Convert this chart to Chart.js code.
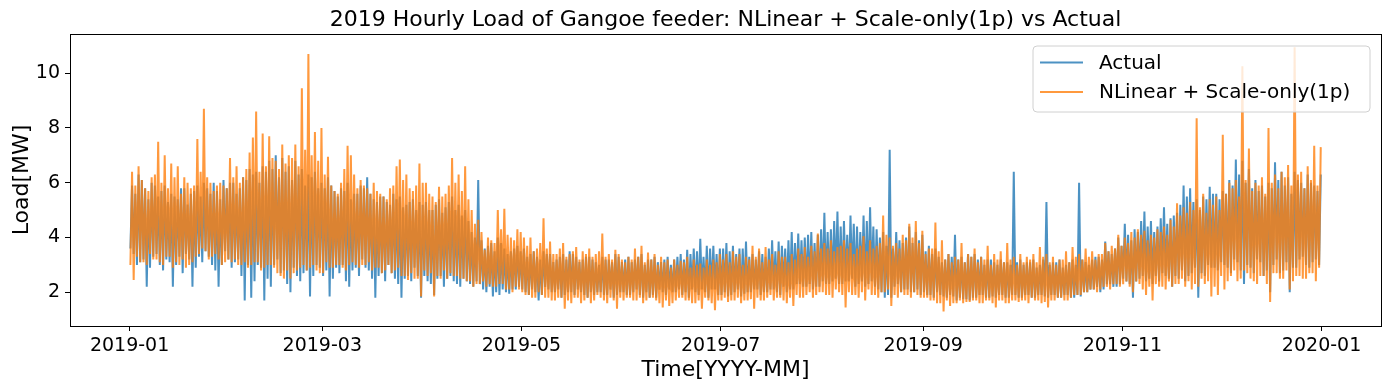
<!DOCTYPE html>
<html>
<head>
<meta charset="utf-8">
<script src="https://cdn.jsdelivr.net/npm/chart.js@4"></script>
<style>
  body { margin: 0; background: #fff; }
  canvas { display: block; }
</style>
</head>
<body>
<canvas id="myChart" width="1390" height="390"></canvas>
<script>
// daily peak and trough of each series for 2019, one row per month
const actualPeaks = [
  [5.9,5.6,6.3,6.1,5.8,5.4,6.0,5.9,5.5,5.7,5.9,5.3,5.6,5.5,5.4,5.8,5.8,5.2,5.6,5.7,5.9,5.5,6.0,5.8,5.6,6.0,5.7,5.4,6.1,5.8,6.0],
  [6.0,5.6,5.8,6.2,6.1,6.5,6.3,6.4,6.0,6.6,6.4,6.8,6.5,7.0,6.2,6.9,6.4,6.6,6.1,6.8,6.3,6.5,5.9,6.3,6.2,6.4,5.8,6.0],
  [5.8,6.2,5.9,5.7,5.5,5.8,5.7,6.0,5.4,5.6,5.6,5.9,5.8,6.2,5.6,5.4,5.3,5.5,5.5,5.3,5.2,5.6,5.4,5.5,5.1,5.2,5.3,5.4,5.0,5.3,5.2],
  [5.3,5.0,5.0,5.2,5.4,4.9,5.1,5.3,5.5,5.0,5.2,4.8,5.0,4.6,4.2,4.0,6.1,3.9,3.6,3.7,3.8,3.5,4.0,3.8,3.6,3.4,3.5,3.6,3.7,3.5],
  [3.6,3.3,3.4,3.5,3.3,3.2,3.5,3.4,3.4,3.1,3.2,3.3,3.4,3.2,3.5,3.4,3.3,3.1,3.2,3.3,3.3,3.2,3.1,3.0,3.3,3.2,3.2,3.1,3.4,3.3,3.1],
  [3.2,3.3,3.1,3.2,3.3,3.4,3.0,3.2,3.2,3.3,3.1,3.1,3.2,3.3,3.0,3.2,3.3,3.4,3.2,3.55,3.4,3.6,3.5,3.95,3.3,3.7,3.6,3.7,3.4,3.6],
  [3.6,3.8,3.5,3.7,3.4,3.6,3.6,3.85,3.3,3.4,3.2,3.5,3.4,3.3,3.6,3.9,3.5,3.85,3.7,3.6,3.9,4.2,3.8,4.15,3.9,4.0,4.1,4.2,3.8,4.1,4.3],
  [4.9,4.2,4.3,4.6,4.95,4.4,4.6,4.1,4.8,4.5,4.4,4.2,4.8,4.6,5.1,4.4,4.3,4.0,4.2,3.7,7.2,3.6,4.2,3.9,3.8,4.0,4.4,3.8,4.2,3.9,4.1],
  [3.5,3.7,3.4,3.6,3.3,3.1,3.2,3.4,3.3,4.1,3.2,3.3,3.1,3.4,3.3,3.4,3.2,3.3,3.0,3.2,3.2,3.1,3.0,3.2,3.1,3.1,3.0,6.4,3.1,3.2],
  [3.0,3.1,3.1,3.2,2.9,3.0,3.2,5.3,3.0,3.1,3.1,3.2,2.9,3.0,3.1,3.2,3.0,6.0,3.2,3.1,3.0,3.2,3.3,3.3,3.2,3.85,3.5,3.4,3.6,4.0,3.7],
  [4.5,4.1,3.9,4.3,4.2,4.6,4.95,4.4,4.6,4.2,4.4,4.7,5.1,4.5,4.7,4.8,4.9,5.2,5.9,5.5,5.8,5.3,5.4,5.0,5.5,5.4,5.85,5.6,5.6,5.4],
  [5.7,5.6,6.1,5.9,6.85,6.3,6.8,6.0,6.5,5.8,6.1,5.7,5.9,5.5,6.0,5.8,6.75,6.1,6.4,5.9,6.2,5.6,6.4,6.1,6.0,5.8,6.3,6.0,5.9,5.7,6.3]
];
const actualTroughs = [
  [3.6,3.4,3.0,3.1,3.2,2.2,2.9,3.3,3.4,3.0,2.8,3.2,3.1,2.2,3.0,3.3,2.7,3.4,3.2,2.2,2.9,3.3,3.1,3.5,3.3,3.0,2.8,2.2,3.0,3.5,3.2],
  [2.9,3.1,3.2,2.6,1.7,3.0,1.8,2.4,3.0,2.9,1.7,2.5,2.2,3.0,3.2,2.7,2.8,2.3,2.0,2.9,2.6,2.4,2.7,2.8,1.85,2.6,3.0,2.9],
  [2.6,2.8,1.85,2.5,2.9,2.7,3.0,2.4,2.2,2.8,2.9,2.6,3.2,2.9,2.8,2.5,1.8,2.6,2.7,2.4,3.0,2.7,2.5,2.3,1.8,2.5,2.6,2.4,2.9,2.6,1.8],
  [2.6,2.4,2.3,1.9,2.5,2.6,2.2,2.5,2.6,2.4,2.3,2.2,2.5,2.4,2.3,2.2,2.4,2.3,2.1,2.0,2.2,1.85,2.0,1.9,2.1,2.0,1.95,2.1,2.1,2.2],
  [2.1,2.0,1.9,2.1,2.0,1.7,1.9,2.2,2.1,2.0,2.0,2.1,1.8,1.9,2.0,2.0,1.9,2.1,2.0,1.9,1.8,2.0,1.9,2.0,2.0,1.9,1.9,2.1,1.8,1.9,2.0],
  [2.0,1.9,1.9,2.0,2.1,1.9,1.8,2.0,1.8,1.9,1.8,2.1,2.0,1.9,2.1,2.0,2.0,2.1,1.9,2.0,1.8,2.1,2.0,1.9,2.1,2.0,1.8,2.1,2.1,1.9],
  [1.9,2.0,1.85,1.9,2.0,2.1,1.85,1.95,2.0,2.0,2.1,2.1,1.9,2.0,2.0,2.1,2.1,2.0,1.9,2.2,2.0,2.1,2.1,2.3,2.3,2.2,2.2,2.3,2.1,2.2,2.2],
  [2.4,2.3,2.3,2.4,2.5,2.3,2.3,2.4,2.4,2.5,2.2,2.3,2.4,2.2,2.3,2.4,2.2,2.1,2.0,1.8,1.9,1.8,2.2,2.3,2.0,2.1,2.1,2.0,2.0,2.1,1.9],
  [2.0,1.9,1.9,1.8,2.0,1.9,1.85,1.8,1.9,1.85,1.7,1.8,1.75,1.75,1.7,1.8,1.8,1.9,1.9,1.8,1.8,1.85,1.8,1.9,1.9,1.8,1.8,1.9,1.9,1.8],
  [1.8,1.9,1.9,1.8,1.8,1.9,1.9,1.85,1.8,1.9,1.9,1.8,1.8,1.9,1.9,1.8,1.8,1.9,1.85,2.0,2.0,2.1,2.1,2.2,2.0,2.1,2.3,2.3,2.2,2.2,2.3],
  [2.5,2.4,2.3,1.8,2.4,2.5,2.6,2.4,2.5,2.3,2.6,2.4,2.7,2.6,2.5,2.2,2.6,2.5,2.8,2.4,2.6,2.7,2.9,1.8,2.7,2.6,3.0,2.9,2.9,2.8],
  [3.1,3.0,2.9,2.7,3.2,3.1,2.8,2.3,3.0,2.9,2.7,3.2,3.1,2.6,2.8,2.0,3.0,3.2,2.7,2.8,3.1,2.0,2.9,2.9,3.2,3.3,3.0,2.9,3.1,3.2,3.0]
];
const predictedPeaks = [
  [6.4,5.9,6.6,6.1,5.8,5.7,6.2,6.3,7.5,6.0,7.0,5.8,6.7,6.2,6.6,5.6,6.2,6.0,5.8,5.9,7.6,6.4,8.7,6.2,6.0,5.7,5.9,6.0,5.9,5.8,6.9],
  [6.2,6.6,6.0,6.2,6.5,7.1,7.65,8.6,6.4,7.8,6.6,7.7,6.9,6.8,6.5,7.4,6.7,7.0,6.9,7.4,6.6,9.45,7.2,10.7,7.0,7.85,6.8,8.0],
  [6.3,6.95,5.9,5.7,5.6,6.0,6.5,7.35,7.0,6.3,5.8,6.1,5.9,5.8,5.6,6.0,5.7,5.6,5.5,5.4,5.8,5.9,6.6,6.85,6.1,6.3,5.8,5.7,5.9,6.7,6.0],
  [6.0,5.6,5.5,5.3,5.85,5.5,5.6,5.9,6.9,6.0,6.3,5.7,6.6,5.4,5.0,4.5,4.65,4.2,3.55,4.0,3.9,3.8,5.0,4.3,5.05,4.1,4.0,3.9,4.3,4.2],
  [4.0,3.7,4.0,3.5,3.6,3.8,4.7,3.6,3.85,3.4,3.4,3.6,3.8,3.3,3.4,3.5,3.65,3.2,3.5,3.4,3.6,3.3,3.4,3.5,4.15,3.3,3.4,3.2,3.55,3.4,3.2],
  [3.1,3.3,3.2,3.6,3.3,3.7,3.1,3.45,3.2,3.4,3.0,3.3,3.1,3.2,2.9,3.2,3.0,3.15,3.1,3.3,2.9,3.2,3.0,3.05,2.9,3.2,3.0,3.2,3.1,3.4],
  [3.2,3.4,3.1,3.5,3.3,3.4,3.0,3.3,3.2,3.7,3.3,3.6,3.1,3.65,3.2,3.4,3.0,3.5,3.3,3.3,3.1,3.4,3.2,3.6,3.4,3.65,3.3,3.7,3.5,4.15,3.6],
  [3.8,3.6,3.9,3.5,3.65,3.7,3.9,3.6,3.8,3.4,3.6,3.7,4.05,3.5,3.9,3.6,3.7,3.8,4.8,4.1,4.0,3.7,3.8,3.6,4.1,3.9,4.5,4.0,4.6,3.8,4.25],
  [3.4,3.6,3.6,4.55,3.5,3.9,3.2,3.4,3.1,3.3,3.2,3.8,3.1,3.4,3.3,3.6,3.1,3.3,3.2,3.7,3.0,3.4,3.2,3.5,3.1,3.8,3.2,3.3,3.0,3.4],
  [3.1,3.3,3.2,3.4,3.1,3.65,3.3,3.4,3.1,3.3,3.0,3.2,3.2,3.5,3.1,3.65,3.3,3.4,3.2,3.6,3.3,3.5,3.2,3.4,3.4,3.8,3.5,3.7,3.6,4.1,3.7],
  [4.0,3.8,4.2,4.0,4.3,4.1,4.25,3.9,4.1,4.0,4.3,4.2,4.4,4.1,4.65,4.4,5.25,4.8,5.1,4.9,5.3,5.0,8.35,5.1,5.6,4.9,5.4,5.2,5.5,5.0],
  [7.75,5.6,6.0,5.8,6.1,5.5,10.25,6.1,7.25,5.7,6.0,5.9,6.2,5.6,8.0,6.0,6.3,5.8,6.4,6.2,6.65,5.9,10.95,6.3,6.4,5.8,6.6,6.1,7.35,5.9,7.3]
];
const predictedTroughs = [
  [3.0,2.45,3.3,3.1,3.1,3.0,3.4,3.2,3.2,3.1,3.0,3.3,3.3,2.9,3.1,3.0,3.2,2.9,3.0,3.1,3.3,3.4,3.6,3.5,3.2,3.3,3.4,3.2,3.0,3.1,3.2],
  [3.1,3.2,3.0,3.0,3.1,2.9,3.0,3.1,3.1,2.8,2.9,3.0,3.0,2.9,2.7,2.6,2.5,2.8,2.5,2.7,2.8,2.9,3.0,2.8,2.9,3.0,2.8,2.7],
  [2.7,3.1,2.9,2.9,3.0,3.0,2.9,2.8,3.0,3.1,3.0,2.9,3.0,3.0,3.1,2.8,2.9,2.9,2.7,2.8,3.0,2.7,2.8,2.9,2.6,2.6,2.45,2.7,2.5,2.5,1.85],
  [2.8,2.6,2.7,1.85,2.6,2.5,2.8,2.5,2.7,2.6,2.6,2.5,2.5,2.4,2.4,2.2,2.3,2.3,2.4,2.2,2.3,2.2,2.2,2.3,2.3,2.1,2.1,2.0,2.2,2.1],
  [2.0,1.9,1.9,1.8,1.8,2.0,1.9,1.8,1.8,1.7,1.7,1.8,1.8,1.4,1.7,1.6,1.8,1.8,1.6,1.7,1.8,1.6,1.7,1.9,1.8,1.7,1.6,1.8,1.7,1.4,1.8],
  [1.7,1.8,1.8,1.7,1.7,1.8,1.6,1.7,1.8,1.8,1.7,1.6,1.45,1.7,1.5,1.6,1.7,1.8,1.8,1.7,1.7,1.6,1.6,1.7,1.4,1.8,1.7,1.6,1.35,1.7],
  [1.7,1.8,1.65,1.7,1.7,1.8,1.6,1.7,1.7,1.75,1.4,1.8,1.7,1.7,1.8,1.9,1.7,1.8,1.8,1.7,1.6,1.8,1.5,1.9,1.8,1.8,1.9,2.0,1.8,1.9,2.0],
  [2.0,1.9,1.9,1.8,2.1,2.0,1.9,1.45,2.0,1.9,1.9,1.8,2.0,1.7,2.1,1.9,1.9,1.8,2.0,2.0,2.1,1.5,1.9,1.8,2.0,1.9,1.9,1.8,2.0,1.9,1.8],
  [1.8,1.8,1.7,1.7,1.6,1.6,1.3,1.7,1.5,1.6,1.6,1.7,1.6,1.65,1.65,1.7,1.7,1.6,1.6,1.7,1.7,1.6,1.45,1.7,1.7,1.6,1.6,1.7,1.7,1.65],
  [1.7,1.7,1.6,1.8,1.7,1.7,1.6,1.65,1.45,1.7,1.7,1.8,1.8,1.7,1.7,1.8,1.9,1.9,1.9,2.0,2.0,2.1,2.1,2.0,2.1,2.2,2.2,2.1,2.3,2.3,2.2],
  [2.3,2.4,2.2,2.0,2.4,2.3,2.1,1.9,2.2,1.7,2.3,2.2,2.2,2.1,2.4,2.2,2.3,2.3,2.5,2.2,2.4,2.1,2.3,2.2,2.5,2.3,2.4,1.85,2.2,1.9],
  [2.6,2.1,2.4,2.6,2.8,2.4,2.5,2.8,2.7,2.5,2.4,2.3,2.6,2.6,2.3,1.65,2.7,2.7,2.5,2.5,2.8,2.1,2.4,2.6,2.6,2.5,2.5,2.7,2.7,2.4,2.9]
];
const tickDays = [0, 59, 120, 181, 243, 304, 365];
const tickLabels = ["2019-01", "2019-03", "2019-05", "2019-07", "2019-09", "2019-11", "2020-01"];
const yTicks = [2, 4, 6, 8, 10];
const seriesNames = ["Actual", "NLinear + Scale-only(1p)"];

const BLUE = "rgba(31,119,180,0.8)";
const ORANGE = "rgba(255,127,14,0.8)";
const FONT = "'DejaVu Sans', sans-serif";

// night trough then daytime peak for every day of the year
function toPoints(peaks, troughs) {
  const p = peaks.flat();
  const t = troughs.flat();
  return t.flatMap((low, i) => [{ x: i + 0.25, y: low }, { x: i + 0.75, y: p[i] }]);
}

// title, axis labels, frame and legend drawn like matplotlib
const decorations = {
  id: "decorations",
  afterDraw(chart) {
    const ctx = chart.ctx;
    const a = chart.chartArea;
    ctx.save();
    ctx.strokeStyle = "#000";
    ctx.lineWidth = 1;
    ctx.strokeRect(Math.round(a.left) + 0.5, Math.round(a.top) + 0.5,
      Math.round(a.right - a.left), Math.round(a.bottom - a.top));

    ctx.fillStyle = "#000";
    ctx.textAlign = "center";
    ctx.textBaseline = "alphabetic";
    ctx.font = "22px " + FONT;
    ctx.fillText("2019 Hourly Load of Gangoe feeder: NLinear + Scale-only(1p) vs Actual",
      (a.left + a.right) / 2, 26);
    ctx.fillText("Time[YYYY-MM]", (a.left + a.right) / 2, 376);
    ctx.save();
    ctx.translate(28, (a.top + a.bottom) / 2);
    ctx.rotate(-Math.PI / 2);
    ctx.fillText("Load[MW]", 0, 0);
    ctx.restore();

    // legend
    ctx.beginPath();
    ctx.roundRect(1033, 46, 337, 66, 4);
    ctx.fillStyle = "rgba(255,255,255,0.8)";
    ctx.fill();
    ctx.strokeStyle = "#d0d0d0";
    ctx.lineWidth = 1;
    ctx.stroke();
    const colors = [BLUE, ORANGE];
    const rows = [62.5, 92];
    ctx.font = "20px " + FONT;
    ctx.textAlign = "left";
    ctx.textBaseline = "middle";
    seriesNames.forEach((name, k) => {
      ctx.strokeStyle = colors[k];
      ctx.lineWidth = 2;
      ctx.beginPath();
      ctx.moveTo(1040, rows[k]);
      ctx.lineTo(1083, rows[k]);
      ctx.stroke();
      ctx.fillStyle = "#000";
      ctx.fillText(name, 1099, rows[k] + 1);
    });
    ctx.restore();
  }
};

new Chart(document.getElementById("myChart"), {
  type: "line",
  data: {
    datasets: [
      {
        label: seriesNames[0],
        data: toPoints(actualPeaks, actualTroughs),
        borderColor: BLUE,
        borderWidth: 2,
        pointRadius: 0,
        order: 2
      },
      {
        label: seriesNames[1],
        data: toPoints(predictedPeaks, predictedTroughs),
        borderColor: ORANGE,
        borderWidth: 2,
        pointRadius: 0,
        order: 1
      }
    ]
  },
  options: {
    responsive: false,
    devicePixelRatio: 1,
    animation: false,
    layout: { padding: { top: 34, right: 9, left: 0, bottom: 0 } },
    plugins: {
      legend: { display: false },
      title: { display: false },
      tooltip: { enabled: false }
    },
    scales: {
      x: {
        type: "linear",
        min: -18.25,
        max: 383.2,
        afterFit: (s) => { s.height = 64; },
        afterBuildTicks: (s) => { s.ticks = tickDays.map((v) => ({ value: v })); },
        grid: { drawOnChartArea: false, drawTicks: true, tickLength: 5, color: "#000" },
        border: { display: false },
        ticks: {
          color: "#000",
          padding: 4,
          maxRotation: 0,
          autoSkip: false,
          font: { family: FONT, size: 19 },
          callback: (v) => tickLabels[tickDays.indexOf(v)]
        }
      },
      y: {
        min: 0.77,
        max: 11.43,
        afterFit: (s) => { s.width = 70; },
        afterBuildTicks: (s) => { s.ticks = yTicks.map((v) => ({ value: v })); },
        grid: { drawOnChartArea: false, drawTicks: true, tickLength: 5, color: "#000" },
        border: { display: false },
        ticks: {
          color: "#000",
          padding: 5,
          font: { family: FONT, size: 19 },
          callback: (v) => String(v)
        }
      }
    }
  },
  plugins: [decorations]
});
</script>
</body>
</html>
